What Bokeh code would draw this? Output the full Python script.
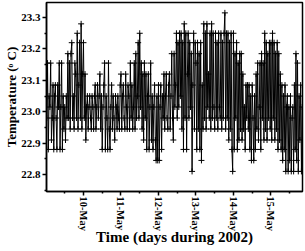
import numpy as np
import pandas as pd
from bokeh.plotting import figure
from bokeh.models import FixedTicker, DatetimeTickFormatter, Range1d, PrintfTickFormatter, Title
from bokeh.embed import file_html
from bokeh.resources import INLINE

# Temperature readings (deg C), every 30 minutes
temp_may09 = [22.98, 23.155, 22.88, 23.05, 23.015, 23.155, 22.91, 22.98,
              23.085, 22.88, 23.05, 23.085, 22.98, 22.88, 23.085, 23.015,
              23.155, 22.88, 23.015, 23.155, 22.88,
              23.05, 22.945, 23.015, 22.91, 23.05, 22.98,
              23.185, 22.98, 23.155, 22.945, 23.185,
              23.22, 22.98, 23.05, 22.945, 23.155,
              23.12, 22.98, 23.25, 22.945, 23.085,
              23.22, 22.98, 23.28, 22.945, 23.12]
temp_may10 = [23.22, 22.98, 23.12, 22.91, 23.015,
              23.05, 22.945, 23.015, 23.05, 22.98, 22.945, 23.05, 23.015, 22.945, 23.05,
              23.085, 22.945, 23.015, 23.085, 22.98, 23.05,
              23.12, 22.945, 23.05, 22.88, 23.015, 23.085,
              23.155, 22.88, 23.05, 22.98, 22.88, 23.155, 22.945, 22.88, 23.015,
              23.085, 22.945, 23.05, 22.98, 22.91, 23.05, 23.015, 22.945, 23.05, 22.98, 22.945, 23.085]
temp_may11 = [23.12, 22.945, 23.05, 23.085, 22.98, 22.945, 23.12, 23.015, 22.945, 23.085,
              23.05, 22.945, 23.155, 22.98, 23.085, 22.945,
              23.015, 23.155, 22.945, 23.185, 22.98,
              23.05, 23.22, 22.98, 23.25, 23.015,
              23.155, 22.945, 23.12, 22.91, 23.155, 22.98,
              23.12, 22.88, 23.05, 23.12, 22.88, 23.015,
              23.155, 22.91, 23.05, 22.88, 23.015,
              23.085, 22.91, 22.845, 23.05, 22.845]
temp_may12 = [23.085, 22.845, 23.015, 23.085, 22.88, 23.05, 22.98,
              23.12, 22.945, 23.05, 23.12, 22.98, 22.945, 23.085, 23.12, 22.945,
              23.05, 23.185, 22.98, 22.91, 23.185, 23.015,
              23.085, 23.25, 22.98, 23.22, 23.015, 23.25,
              23.05, 23.25, 22.945, 23.22, 22.88, 23.28, 22.98,
              23.25, 22.88, 23.12, 23.25, 22.98, 23.22,
              23.015, 23.185, 22.81, 23.085, 23.25, 22.945, 23.22]
temp_may13 = [23.155, 22.88, 23.22, 22.945, 23.185, 22.88,
              23.22, 22.845, 23.085, 22.945, 23.28, 22.98,
              23.25, 22.945, 23.28, 23.015, 23.12, 22.98, 23.25,
              22.945, 23.28, 22.98, 23.25, 23.015, 22.945,
              23.25, 22.98, 23.22, 22.945, 23.25, 23.015, 22.98, 23.25,
              22.945, 23.22, 22.98, 23.25, 23.315, 22.945,
              23.25, 22.98, 23.25, 22.91, 23.22, 22.945, 23.25, 22.88, 22.81]
temp_may14 = [23.25, 22.88, 23.185, 22.98, 23.22, 22.88,
              23.155, 22.91, 23.185, 22.945, 23.185, 22.91,
              23.12, 22.945, 23.015, 22.88, 23.085, 22.98, 23.085,
              22.945, 23.085, 22.88, 23.05, 22.845, 23.085, 22.98, 22.845,
              23.05, 22.88, 23.12, 22.945, 23.155, 22.91, 23.015,
              23.155, 22.88, 23.185, 22.98, 23.155, 22.91, 23.25,
              22.945, 23.22, 22.91, 23.185, 22.98, 23.22, 22.945]
temp_may15 = [23.22, 22.91, 23.25, 22.98, 23.22, 22.91, 23.185,
              22.945, 23.22, 22.88, 23.185, 22.91, 23.12, 22.88,
              23.085, 22.845, 23.05, 22.88, 23.085, 22.81, 23.015,
              23.05, 22.81, 23.015, 22.845, 23.05, 22.81, 22.98,
              23.015, 22.81, 23.085, 22.88, 23.185, 22.845, 23.155,
              22.81, 23.05, 22.91, 23.085, 22.81, 23.015]

temps = temp_may09 + temp_may10 + temp_may11 + temp_may12 + temp_may13 + temp_may14 + temp_may15
first_reading = "2002-05-09 00:30"
times = pd.date_range(first_reading, periods=len(temps), freq="30min")

day_ticks = ["2002-05-10", "2002-05-11", "2002-05-12", "2002-05-13", "2002-05-14", "2002-05-15"]
y_ticks = [22.8, 22.9, 23.0, 23.1, 23.2, 23.3]

x_start = pd.Timestamp("2002-05-09 00:20")
x_end = pd.Timestamp("2002-05-15 20:11")

p = figure(width=305, height=251, output_backend="svg", toolbar_location=None,
           x_range=Range1d(x_start, x_end), y_range=Range1d(22.746, 23.348),
           min_border_left=46, min_border_right=3, min_border_top=2, min_border_bottom=60)

p.line(times, temps, line_color="black", line_width=1)
p.scatter(times, temps, marker="cross", size=6, line_color="black", line_width=1)

ms = lambda s: pd.Timestamp(s).value / 1e6
major = [ms(d) for d in day_ticks]
half = 12 * 3600 * 1000
minor = [m - half for m in major] + [major[-1] + half]
p.xaxis.ticker = FixedTicker(ticks=major, minor_ticks=minor)
fmt = "%d-%b"
p.xaxis.formatter = DatetimeTickFormatter(days=fmt, hours=fmt, hourmin=fmt, minutes=fmt,
                                          months=fmt, years=fmt, seconds=fmt,
                                          minsec=fmt, milliseconds=fmt, microseconds=fmt)
p.xaxis.major_label_orientation = "vertical"

ymin = [round(v - 0.05, 2) for v in y_ticks] + [round(y_ticks[-1] + 0.05, 2)]
p.yaxis.ticker = FixedTicker(ticks=y_ticks, minor_ticks=ymin)
p.yaxis.formatter = PrintfTickFormatter(format="%.1f")

p.xaxis.axis_label = "Time (days during 2002)"

ytitle = Title(text="Temperature (ᵒ C)", align="center", offset=34, standoff=0,
               text_font="Liberation Serif", text_font_style="bold",
               text_font_size="13px", text_color="black")
p.add_layout(ytitle, "left")

for ax in (p.xaxis[0], p.yaxis[0]):
    ax.axis_line_width = 1.5
    ax.major_tick_line_width = 1.5
    ax.minor_tick_line_width = 1.5
    ax.major_tick_out = 4
    ax.major_tick_in = 0
    ax.minor_tick_out = 2
    ax.minor_tick_in = 0
    ax.major_label_text_font = "Liberation Serif"
    ax.major_label_text_font_style = "bold"
    ax.major_label_text_color = "black"
    ax.axis_label_text_font = "Liberation Serif"
    ax.axis_label_text_font_style = "bold"
    ax.axis_label_text_color = "black"
    ax.major_label_standoff = 2

p.xaxis.major_label_text_font_size = "10.5px"
p.yaxis.major_label_text_font_size = "11px"
p.xaxis.axis_label_text_font_size = "15px"
p.xaxis.axis_label_standoff = -5
p.xaxis.major_label_standoff = 1

p.xgrid.visible = False
p.ygrid.visible = False
p.outline_line_color = "black"
p.outline_line_width = 1.5
p.background_fill_color = "white"
p.border_fill_color = "white"

open("out.html", "w").write(file_html(p, INLINE))
